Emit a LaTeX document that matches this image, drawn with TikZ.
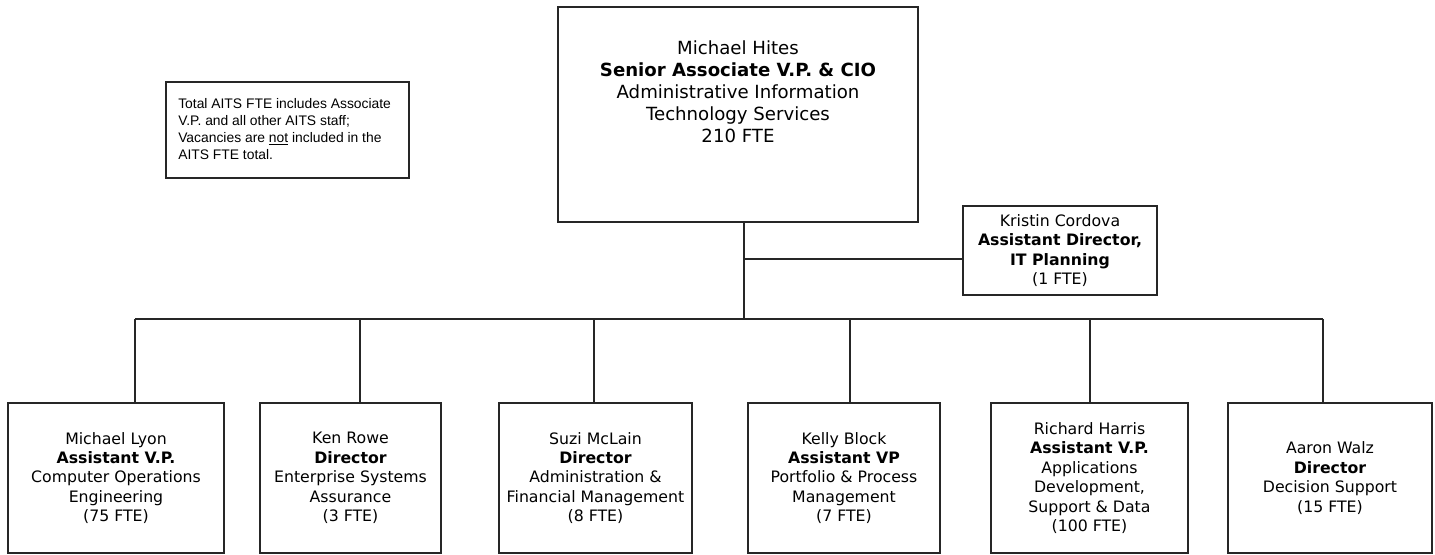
\documentclass[tikz,border=0pt]{standalone}
\usepackage{fontspec}
\setmainfont{DejaVu Sans}
\newfontfamily\notefont{Liberation Sans}
\begin{document}
\begin{tikzpicture}[x=0.75pt,y=-0.75pt,
  box/.style={draw=black!85, line width=0.9pt, fill=white, inner sep=0pt, align=center},
  bottombox/.style={box, minimum height=150*0.75pt, font=\fontsize{11.8}{14.6}\selectfont},
  conn/.style={draw=black!85, line width=0.9pt}]
\useasboundingbox (0,0) rectangle (1435,554);
% top box
\node[box, minimum width=360*0.75pt, minimum height=215*0.75pt] (top) at (738,114.5) {};
\node[align=center, inner sep=0pt, anchor=north, font=\fontsize{13.6}{16.5}\selectfont] (toptext) at (738,40)
  {Michael Hites\\ \textbf{Senior Associate V.P. \& CIO}\\ Administrative Information\\ Technology Services\\ 210 FTE};
% note
\node[box, minimum width=243*0.75pt, minimum height=96*0.75pt] (note) at (287.5,130) {};
\node[align=left, inner sep=0pt, anchor=north west, font=\notefont\fontsize{10.4}{12.7}\selectfont] (notetext) at (178,98)
  {Total AITS FTE includes Associate\\ V.P. and all other AITS staff;\\ Vacancies are \underline{not} included in the\\ AITS FTE total.};
% Kristin
\node[box, minimum width=194*0.75pt, minimum height=89*0.75pt, font=\fontsize{11.8}{14.6}\selectfont] (kc) at (1060,250.5)
  {Kristin Cordova\\ \textbf{Assistant Director,}\\ \textbf{IT Planning}\\ (1 FTE)};
% bottom boxes
\node[bottombox, minimum width=216*0.75pt] (b1) at (116,478) {Michael Lyon\\ \textbf{Assistant V.P.}\\ Computer Operations\\ Engineering\\ (75 FTE)};
\node[bottombox, minimum width=181*0.75pt] (b2) at (350.5,478) {Ken Rowe\\ \textbf{Director}\\ Enterprise Systems\\ Assurance\\ (3 FTE)};
\node[bottombox, minimum width=193*0.75pt] (b3) at (595.5,478) {Suzi McLain\\ \textbf{Director}\\ Administration \&\\ Financial Management\\ (8 FTE)};
\node[bottombox, minimum width=192*0.75pt] (b4) at (844,478) {Kelly Block\\ \textbf{Assistant VP}\\ Portfolio \& Process\\ Management\\ (7 FTE)};
\node[bottombox, minimum width=197*0.75pt] (b5) at (1089.5,478) {Richard Harris\\ \textbf{Assistant V.P.}\\ Applications\\ Development,\\ Support \& Data\\ (100 FTE)};
\node[bottombox, minimum width=204*0.75pt] (b6) at (1330,478) {Aaron Walz\\ \textbf{Director}\\ Decision Support\\ (15 FTE)};
% connectors
\coordinate (bus) at (744,319);
\coordinate (kj) at (744,259);
\coordinate (d1) at (135,319);
\coordinate (d2) at (360,319);
\coordinate (d3) at (594,319);
\coordinate (d4) at (850,319);
\coordinate (d5) at (1090,319);
\coordinate (d6) at (1323,319);
\draw[conn] (top.south -| bus) -- (bus);
\draw[conn] (kj) -- (kj -| kc.west);
\draw[conn] (d1) -- (d6);
\foreach \i in {1,...,6} {\draw[conn] (d\i) -- (d\i |- b\i.north);}
\end{tikzpicture}
\end{document}
